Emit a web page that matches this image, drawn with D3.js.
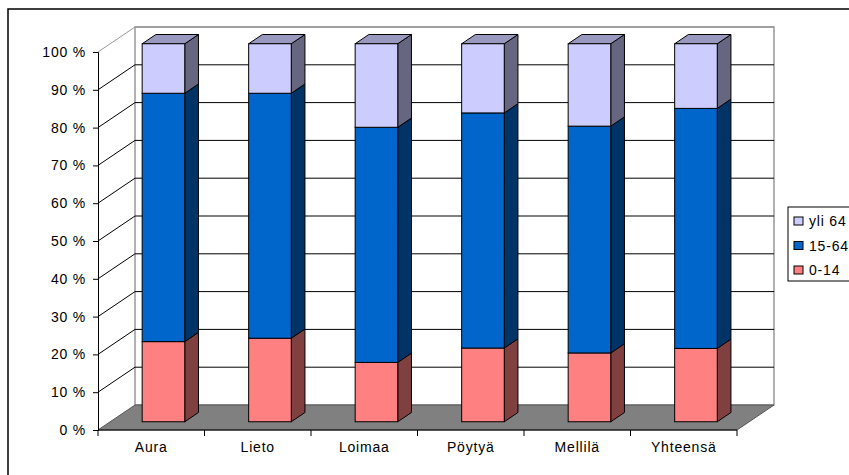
<!DOCTYPE html>
<html>
<head>
<meta charset="utf-8">
<script src="https://cdn.jsdelivr.net/npm/d3@7"></script>
<style>
  body { margin: 0; background: #fff; }
  text { font-family: "Liberation Sans", Arial, sans-serif; font-size: 14px; letter-spacing: 0.8px; fill: #000; }
</style>
</head>
<body>
<svg width="849" height="475"></svg>
<script>
// data (percent of population)
const kunnat = ['Aura', 'Lieto', 'Loimaa', 'Pöytyä', 'Mellilä', 'Yhteensä']
const ika_0_14 = [21.2, 22.1, 15.7, 19.5, 18.2, 19.4]
const ika_15_64 = [65.7, 64.8, 62.2, 62.2, 60.0, 63.5]
const ika_yli64 = [13.1, 13.1, 22.1, 18.3, 21.8, 17.1]
const sarjat = ['0-14', '15-64', 'yli 64']
const yTicks = [0, 10, 20, 30, 40, 50, 60, 70, 80, 90, 100]

const varit = {'0-14': '#FF8080', '15-64': '#0066CC', 'yli 64': '#CCCCFF'}

let svg = d3.select('svg')

// outer frame (cut by the window on the right and bottom)
svg.append('path').attr('d', 'M8,475 V9 H849').attr('fill', 'none')
  .attr('stroke', '#000').attr('stroke-width', 1.5)

// 3d: depth 0..1 shifts by DX right and DY up
const DX = 37, DY = 25
let x = d3.scaleBand().domain(kunnat).range([98, 737]).paddingInner(0.6).paddingOuter(0.3)
let y = d3.scaleLinear().domain([0, 100]).range([430, 52])
const P = (px, v, z) => [px + z * DX, y(v) - z * DY]

let g = svg.append('g')

// back wall
g.append('rect').attr('x', 98 + DX).attr('y', y(100) - DY)
  .attr('width', 737 - 98).attr('height', y(0) - y(100))
  .attr('fill', '#fff').attr('stroke', '#999').attr('stroke-width', 1.5)

// gridlines on back wall and left side wall
yTicks.filter(t => t > 0).forEach(t => {
  let a = P(98, t, 0), b = P(98, t, 1), c = P(737, t, 1)
  g.append('line').attr('x1', b[0]).attr('y1', b[1]).attr('x2', c[0]).attr('y2', c[1])
    .attr('stroke', t === 100 ? '#999' : '#000').attr('stroke-width', t === 100 ? 1.5 : 1)
  g.append('line').attr('x1', a[0]).attr('y1', a[1]).attr('x2', b[0]).attr('y2', b[1])
    .attr('stroke', t === 100 ? '#999' : '#000')
})

// floor
let floor = [P(98, 0, 0), P(737, 0, 0), P(737, 0, 1), P(98, 0, 1)]
g.append('polygon').attr('points', floor.map(p => p.join(',')).join(' '))
  .attr('fill', '#808080').attr('stroke', '#555').attr('stroke-width', 1)

// stacked bars
let taulu = kunnat.map((k, i) => ({kunta: k, '0-14': ika_0_14[i], '15-64': ika_15_64[i], 'yli 64': ika_yli64[i]}))
let pinot = d3.stack().keys(sarjat)(taulu)

const z0 = 0.33, z1 = 0.70
const sekoita = (c, k) => { let r = d3.rgb(c); return d3.rgb(r.r * k, r.g * k, r.b * k).toString() }
const poly = pts => pts.map(p => p.join(',')).join(' ')

pinot.forEach((sarja, si) => {
  sarja.forEach(d => {
    let xl = x(d.data.kunta), xr = xl + x.bandwidth()
    let v0 = d[0], v1 = d[1]
    let vari = varit[sarja.key]
    // side face
    g.append('polygon')
      .attr('points', poly([P(xr, v0, z0), P(xr, v0, z1), P(xr, v1, z1), P(xr, v1, z0)]))
      .attr('fill', sekoita(vari, 0.5)).attr('stroke', '#000').attr('stroke-width', 1)
    // top face only on the top segment
    if (si === pinot.length - 1) {
      g.append('polygon')
        .attr('points', poly([P(xl, v1, z0), P(xr, v1, z0), P(xr, v1, z1), P(xl, v1, z1)]))
        .attr('fill', sekoita(vari, 0.75)).attr('stroke', '#000').attr('stroke-width', 1)
    }
    // front face
    let a = P(xl, v1, z0), b = P(xr, v0, z0)
    g.append('rect').attr('x', a[0]).attr('y', a[1])
      .attr('width', b[0] - a[0]).attr('height', b[1] - a[1])
      .attr('fill', vari).attr('stroke', '#000').attr('stroke-width', 1)
  })
})

// y axis on the front plane
let yAxis = d3.axisLeft(y).tickValues(yTicks).tickSize(5).tickPadding(7).tickFormat(d => d + ' %')
let ya = svg.append('g').attr('transform', 'translate(98,0)').call(yAxis)
ya.attr('font-size', null).attr('font-family', null)
ya.select('.domain').attr('stroke', '#000')
ya.selectAll('line').attr('stroke', '#000')
ya.selectAll('text').attr('fill', '#000')

// x axis: line, ticks between categories, labels centered under each category
let xa = svg.append('g')
xa.append('line').attr('x1', 98).attr('x2', 737).attr('y1', y(0)).attr('y2', y(0)).attr('stroke', '#000')
let rajat = d3.range(kunnat.length + 1).map(i => 98 + i * x.step())
xa.selectAll('.raja').data(rajat).enter().append('line')
  .attr('x1', d => d).attr('x2', d => d).attr('y1', y(0)).attr('y2', y(0) + 6).attr('stroke', '#000')
xa.selectAll('.nimi').data(kunnat).enter().append('text')
  .attr('x', d => x(d) + x.bandwidth() / 2).attr('y', y(0) + 22)
  .attr('text-anchor', 'middle').text(d => d)

// legend
let leg = svg.append('g').attr('transform', 'translate(788,207)')
leg.append('rect').attr('width', 70).attr('height', 74).attr('fill', '#fff').attr('stroke', '#000')
sarjat.slice().reverse().forEach((s, i) => {
  let yy = 14 + i * 24.5
  leg.append('rect').attr('x', 6).attr('y', yy - 4).attr('width', 9).attr('height', 8)
    .attr('fill', varit[s]).attr('stroke', '#000')
  leg.append('text').attr('x', 21).attr('y', yy + 5).text(s)
})
</script>
</body>
</html>
